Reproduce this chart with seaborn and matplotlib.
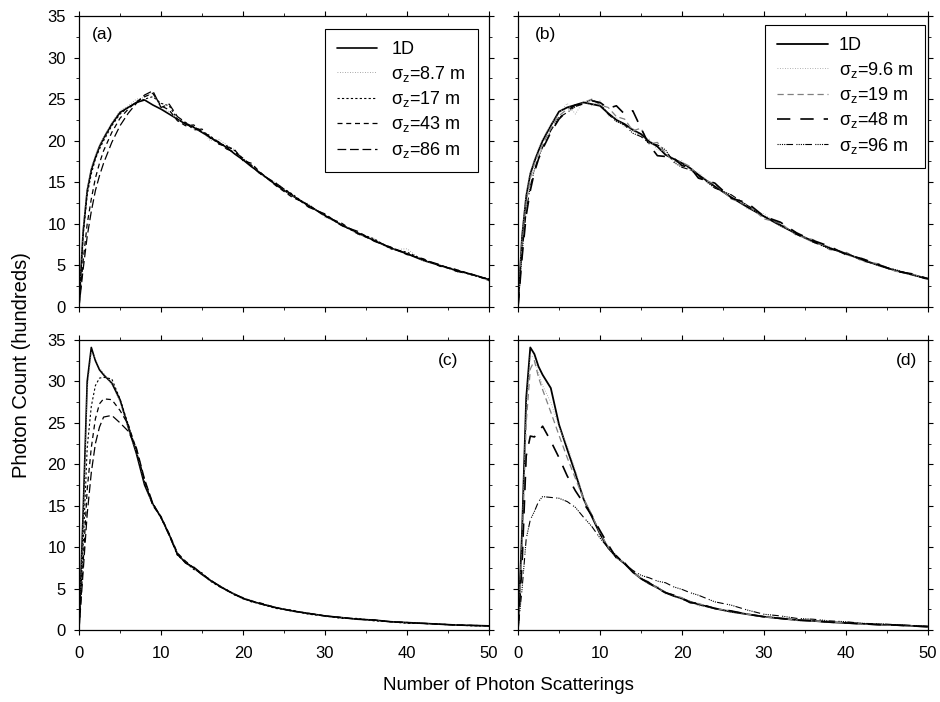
import numpy as np
import pandas as pd
import matplotlib
matplotlib.use("Agg")
import matplotlib.pyplot as plt
import seaborn as sns

# ---------------- data ----------------
X = [0, 0.5, 1, 1.5, 2, 2.5, 3, 4, 5, 6, 7, 8, 9, 10, 11, 12, 13, 14, 15, 16,
     17, 18, 19, 20, 21, 22, 24, 26, 28, 30, 32, 34, 36, 38, 40, 42, 44, 46, 48, 50]

# panel (a)
a_1d  = [0, 9, 14, 16.5, 18, 19.3, 20.3, 22, 23.4, 24, 24.6, 24.9, 24.3, 23.8, 23.2, 22.6, 22.0, 21.6, 21.0, 20.4,
         19.8, 19.2, 18.4, 17.7, 16.9, 16.2, 14.7, 13.4, 12.2, 11.0, 9.9, 8.9, 8.0, 7.1, 6.4, 5.6, 5.0, 4.4, 3.9, 3.3]
a_s1  = [0, 9.5, 14.3, 16.8, 18.3, 19.5, 20.4, 22.2, 23.6, 24.2, 25.0, 25.2, 25.8, 23.9, 23.5, 22.5, 22.3, 21.4, 21.2, 20.0,
         20.2, 19.5, 18.9, 17.9, 17.2, 16.0, 15.0, 13.3, 12.4, 10.8, 10.0, 8.7, 8.2, 6.9, 7.0, 5.5, 5.1, 4.2, 3.9, 3.1]
a_s2  = [0, 8.5, 13.5, 16.0, 17.8, 19.0, 20.0, 21.8, 23.2, 24.0, 24.6, 25.0, 25.3, 24.5, 24.2, 22.6, 22.1, 21.7, 21.1, 20.6,
         19.7, 19.4, 18.8, 17.8, 17.1, 16.1, 14.8, 13.6, 12.1, 11.1, 9.8, 8.9, 8.2, 7.0, 6.6, 5.7, 5.0, 4.5, 3.8, 3.4]
a_s3  = [0, 5.5, 10, 13, 15.5, 17.3, 18.8, 21.0, 22.7, 23.8, 24.7, 25.3, 25.7, 24.2, 23.7, 22.4, 21.8, 21.9, 21.0, 20.5,
         19.6, 19.3, 18.9, 17.6, 17.3, 16.3, 14.6, 13.2, 12.3, 10.9, 10.1, 8.8, 8.0, 7.2, 6.3, 5.8, 4.9, 4.5, 3.9, 3.2]
a_s4  = [0, 4.5, 8.5, 11.5, 14, 15.8, 17.3, 19.8, 21.8, 23.3, 24.5, 25.5, 26.0, 24.0, 24.4, 22.9, 22.2, 21.3, 21.4, 20.3,
         19.9, 19.0, 18.6, 17.9, 17.0, 16.1, 14.9, 13.5, 12.0, 11.2, 9.8, 9.1, 7.9, 7.2, 6.4, 5.7, 5.1, 4.3, 3.9, 3.3]

# panel (b)
b_1d  = [0, 8.5, 13.3, 16, 17.5, 18.8, 20.0, 21.8, 23.5, 24.0, 24.3, 24.6, 24.4, 24.2, 23.3, 22.5, 22.0, 21.3, 20.8, 19.9,
         19.3, 18.3, 17.8, 17.3, 16.7, 15.9, 14.5, 13.2, 12.0, 10.9, 9.8, 8.8, 7.9, 7.1, 6.4, 5.7, 5.0, 4.4, 3.9, 3.4]
b_s1  = [0, 9, 13.8, 16.3, 17.8, 19.1, 20.2, 22.0, 23.3, 24.5, 23.2, 24.8, 24.2, 24.8, 23.0, 22.8, 21.6, 21.5, 20.4, 20.2,
         18.9, 18.7, 17.5, 17.6, 16.4, 16.2, 14.3, 13.5, 11.8, 11.2, 9.7, 9.0, 7.7, 7.3, 6.2, 5.9, 4.9, 4.5, 3.8, 3.5]
b_s2  = [0, 7.5, 12.5, 15.5, 17.2, 18.5, 19.6, 21.5, 23.0, 23.8, 24.0, 24.6, 25.0, 24.3, 24.0, 22.9, 22.6, 21.2, 21.5, 19.6,
         19.8, 18.5, 17.5, 17.4, 16.9, 15.6, 14.8, 13.0, 12.3, 10.6, 10.1, 8.6, 8.1, 6.9, 6.6, 5.5, 5.2, 4.3, 4.0, 3.3]
b_s3  = [0, 6, 11, 14, 16.2, 17.8, 19.0, 21.0, 22.6, 23.6, 24.3, 24.4, 24.8, 24.6, 23.9, 24.2, 23.2, 23.6, 21.5, 19.5,
         18.2, 18.1, 17.9, 17.0, 16.8, 15.5, 14.9, 13.1, 12.5, 10.9, 10.2, 8.9, 8.0, 7.3, 6.3, 5.8, 5.1, 4.3, 4.0, 3.4]
b_s4  = [0, 6.5, 11.5, 14.5, 16.5, 18.0, 19.2, 21.2, 22.8, 23.4, 24.1, 24.5, 24.9, 24.5, 23.2, 22.3, 21.9, 20.9, 20.5, 19.7,
         19.5, 18.9, 17.4, 16.8, 16.5, 15.8, 14.3, 13.5, 12.2, 10.9, 9.9, 8.7, 7.8, 7.0, 6.5, 5.6, 5.0, 4.5, 3.9, 3.3]

# panel (c)
c_1d  = [0, 14, 30, 34.1, 32.5, 31.4, 30.8, 29.8, 27.8, 24.5, 21.3, 17.5, 15.2, 13.6, 11.5, 9.2, 8.1, 7.5, 6.7, 6.0,
         5.4, 4.8, 4.3, 3.8, 3.5, 3.2, 2.7, 2.3, 2.0, 1.7, 1.5, 1.3, 1.2, 1.0, 0.9, 0.8, 0.7, 0.6, 0.55, 0.5]
c_s1  = [0, 13, 29, 33.5, 32.8, 31.6, 31.0, 29.6, 27.5, 24.3, 21.5, 17.8, 15.0, 13.8, 11.3, 9.4, 8.0, 7.4, 6.8, 5.9,
         5.4, 4.7, 4.4, 3.7, 3.6, 3.1, 2.8, 2.2, 2.1, 1.6, 1.5, 1.3, 1.2, 1.0, 0.9, 0.8, 0.7, 0.6, 0.55, 0.5]
c_s2  = [0, 10, 22, 27, 29.5, 30.4, 30.5, 30.3, 27.9, 24.8, 21.6, 17.9, 15.3, 13.5, 11.6, 9.0, 8.2, 7.3, 6.9, 5.9,
         5.3, 4.9, 4.2, 3.9, 3.4, 3.2, 2.6, 2.4, 1.9, 1.7, 1.4, 1.4, 1.1, 1.0, 0.8, 0.8, 0.7, 0.6, 0.5, 0.5]
c_s3  = [0, 8, 17, 22, 25.5, 27.3, 27.9, 27.8, 26.5, 24.8, 21.8, 18.0, 15.0, 13.7, 11.6, 9.3, 8.3, 7.5, 6.7, 6.1,
         5.3, 4.8, 4.3, 3.8, 3.5, 3.3, 2.7, 2.3, 2.0, 1.7, 1.5, 1.3, 1.2, 1.0, 0.9, 0.8, 0.7, 0.6, 0.55, 0.5]
c_s4  = [0, 7, 14, 19, 22.5, 24.5, 25.7, 25.9, 25.0, 24.0, 22.0, 18.2, 15.3, 13.6, 11.4, 9.1, 8.1, 7.6, 6.8, 6.0,
         5.4, 4.8, 4.3, 3.9, 3.5, 3.2, 2.7, 2.3, 2.0, 1.7, 1.5, 1.3, 1.2, 1.0, 0.9, 0.8, 0.7, 0.6, 0.55, 0.5]

# panel (d)
d_1d  = [0, 12, 28, 34.1, 33.3, 31.8, 30.8, 29.2, 24.8, 21.8, 18.9, 15.8, 13.7, 11.6, 9.9, 8.8, 8.0, 7.0, 6.2, 5.6,
         5.1, 4.5, 4.1, 3.8, 3.4, 3.1, 2.6, 2.2, 1.9, 1.6, 1.4, 1.2, 1.1, 0.95, 0.85, 0.75, 0.65, 0.6, 0.5, 0.4]
d_s1  = [0, 11, 27, 33.2, 32.8, 31.0, 29.5, 27.5, 24.5, 22.3, 19.3, 16.0, 14.0, 11.8, 10.1, 8.6, 8.2, 6.8, 6.3, 5.5,
         5.3, 4.3, 4.2, 3.6, 3.5, 2.9, 2.7, 2.1, 2.0, 1.5, 1.5, 1.1, 1.1, 0.9, 0.9, 0.7, 0.7, 0.55, 0.5, 0.4]
d_s2  = [0, 10, 25, 31.5, 32.5, 30.5, 29.0, 26.3, 23.5, 20.8, 18.3, 15.8, 13.9, 11.7, 10.0, 8.7, 8.1, 7.0, 6.2, 5.8,
         5.0, 4.6, 4.2, 3.9, 3.3, 3.2, 2.6, 2.3, 1.9, 1.6, 1.4, 1.2, 1.1, 0.95, 0.85, 0.75, 0.65, 0.6, 0.5, 0.4]
d_s3  = [0, 8, 21, 23.4, 23.3, 23.9, 24.6, 22.8, 20.8, 18.6, 16.8, 15.3, 13.8, 12.0, 10.3, 8.7, 8.1, 7.0, 6.2, 5.7,
         5.0, 4.5, 4.2, 3.8, 3.3, 3.2, 2.6, 2.3, 1.9, 1.6, 1.4, 1.2, 1.1, 0.95, 0.85, 0.75, 0.65, 0.6, 0.5, 0.4]
d_s4  = [0, 5, 11, 13.3, 14.3, 15.5, 16.1, 16.0, 15.9, 15.5, 14.8, 13.6, 12.5, 11.1, 9.9, 9.0, 8.0, 7.2, 6.6, 6.3,
         5.9, 5.7, 5.2, 4.9, 4.5, 4.2, 3.4, 3.0, 2.4, 1.9, 1.7, 1.4, 1.3, 1.1, 1.0, 0.8, 0.75, 0.65, 0.55, 0.45]

labels_ac = ["1D", r"$\sigma_z$=8.7 m", r"$\sigma_z$=17 m", r"$\sigma_z$=43 m", r"$\sigma_z$=86 m"]
labels_bd = ["1D", r"$\sigma_z$=9.6 m", r"$\sigma_z$=19 m", r"$\sigma_z$=48 m", r"$\sigma_z$=96 m"]
panel_tags = ["(a)", "(b)", "(c)", "(d)"]
xticks = [0, 10, 20, 30, 40, 50]
yticks = [0, 5, 10, 15, 20, 25, 30, 35]

# ---------------- styling ----------------
sns.set_style("ticks")
plt.rcParams["font.family"] = ["Liberation Sans", "DejaVu Sans"]
plt.rcParams["mathtext.fontset"] = "custom"
plt.rcParams["mathtext.rm"] = "Liberation Sans"
plt.rcParams["mathtext.it"] = "Liberation Sans"
plt.rcParams["mathtext.default"] = "regular"
plt.rcParams["text.color"] = "black"
plt.rcParams["axes.labelcolor"] = "black"
plt.rcParams["xtick.color"] = "black"
plt.rcParams["ytick.color"] = "black"
plt.rcParams["xtick.labelcolor"] = "black"
plt.rcParams["ytick.labelcolor"] = "black"

styles_ac = [
    dict(color="black", lw=1.2, ls="-"),
    dict(color="0.55", lw=0.6, ls=(0, (1, 2))),
    dict(color="black", lw=0.8, ls=(0, (2, 2))),
    dict(color="black", lw=0.9, ls=(0, (4, 3))),
    dict(color="black", lw=0.9, ls=(0, (7, 3))),
]
styles_bd = [
    dict(color="black", lw=1.3, ls="-"),
    dict(color="0.6", lw=0.6, ls=(0, (1, 2))),
    dict(color="0.5", lw=0.9, ls=(0, (5, 3))),
    dict(color="black", lw=1.2, ls=(0, (8, 6))),
    dict(color="black", lw=0.8, ls=(0, (1, 1, 1, 1, 1, 1, 1, 1, 6, 3))),
]

fig = plt.figure(figsize=(9.4, 7.02), dpi=100)
W = 410 / 940
positions = [
    (79 / 940, 1 - 307 / 702, W, 291 / 702),
    (518 / 940, 1 - 307 / 702, W, 291 / 702),
    (79 / 940, 1 - 630 / 702, W, 290 / 702),
    (518 / 940, 1 - 630 / 702, W, 290 / 702),
]
panels = [
    [a_1d, a_s1, a_s2, a_s3, a_s4],
    [b_1d, b_s1, b_s2, b_s3, b_s4],
    [c_1d, c_s1, c_s2, c_s3, c_s4],
    [d_1d, d_s1, d_s2, d_s3, d_s4],
]

for i, (pos, curves) in enumerate(zip(positions, panels)):
    ax = fig.add_axes(pos)
    labels = labels_ac if i % 2 == 0 else labels_bd
    styles = styles_ac if i % 2 == 0 else styles_bd
    for vals, lab, st in zip(curves, labels, styles):
        df = pd.DataFrame({"x": X, "y": vals})
        sns.lineplot(data=df, x="x", y="y", ax=ax, color=st["color"], linewidth=st["lw"],
                     label=lab, estimator=None, sort=False, legend=False)
        ax.lines[-1].set_linestyle(st["ls"])
    ax.set_xlim(0, 50)
    ax.set_ylim(0, 35)
    ax.set_xticks(xticks)
    ax.set_yticks(yticks)
    ax.set_xticks(np.arange(0, 51, 5), minor=True)
    ax.set_yticks(np.arange(0, 35.1, 2.5), minor=True)
    ax.set_xlabel("")
    ax.set_ylabel("")
    for s in ax.spines.values():
        s.set_linewidth(0.9)
        s.set_color("black")
    ax.tick_params(which="major", direction="out", length=3.5, width=0.8, labelsize=12,
                   top=True, right=True, colors="black")
    ax.tick_params(which="minor", direction="out", length=2, width=0.6, top=True, right=True, colors="black")
    ax.tick_params(axis="y", which="major", pad=6)
    if i < 2:
        ax.tick_params(labelbottom=False)
    else:
        ax.tick_params(axis="x", labelbottom=True, pad=8)
    if i % 2 == 1:
        ax.tick_params(labelleft=False)
    if i == 0:
        ax.legend(loc="upper right", bbox_to_anchor=(0.973, 0.955), frameon=True, fancybox=False,
                  edgecolor="black", framealpha=1, fontsize=13, handlelength=2.2, handletextpad=0.8,
                  labelspacing=0.3, borderpad=0.67, borderaxespad=0)
    elif i == 1:
        ax.legend(loc="upper right", bbox_to_anchor=(0.993, 0.969), frameon=True, fancybox=False,
                  edgecolor="black", framealpha=1, fontsize=13, handlelength=2.8, handletextpad=0.6,
                  labelspacing=0.3, borderpad=0.67, borderaxespad=0)
    if ax.get_legend() is not None:
        ax.get_legend().get_frame().set_linewidth(0.8)
    if i == 0:
        ax.text(0.032, 0.962, panel_tags[i], transform=ax.transAxes, ha="left", va="top", fontsize=12.5)
    elif i == 1:
        ax.text(0.040, 0.962, panel_tags[i], transform=ax.transAxes, ha="left", va="top", fontsize=12.5)
    elif i == 2:
        ax.text(0.924, 0.955, panel_tags[i], transform=ax.transAxes, ha="right", va="top", fontsize=12.5)
    else:
        ax.text(0.973, 0.955, panel_tags[i], transform=ax.transAxes, ha="right", va="top", fontsize=12.5)

fig.text(22 / 940, 1 - 365 / 702, "Photon Count (hundreds)", rotation=90, ha="center", va="center", fontsize=14.5)
fig.text(508 / 940, 1 - 686 / 702, "Number of Photon Scatterings", ha="center", va="center", fontsize=13.5)

fig.savefig("out.png", dpi=100)
